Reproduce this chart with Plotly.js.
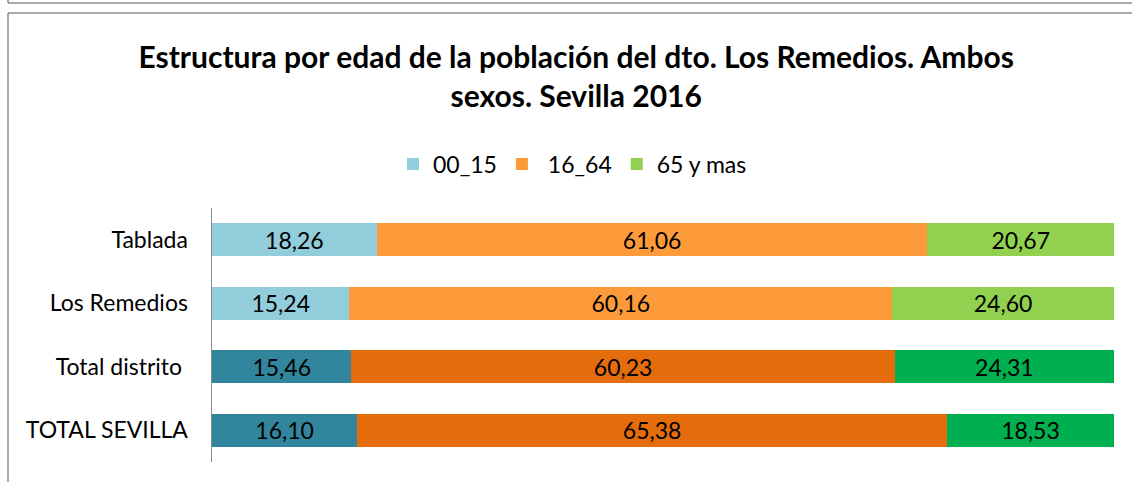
<!DOCTYPE html>
<html>
<head>
<meta charset="utf-8">
<script src="https://cdn.plot.ly/plotly-3.0.1.min.js"></script>
<style>html,body{margin:0;padding:0;background:#fff;}#chart{width:1132px;height:482px;}</style>
</head>
<body>
<div id="chart"></div>
<script>
const categories = ["Tablada", "Los Remedios", "Total distrito\u00a0", "TOTAL SEVILLA"];
const seriesNames = ["00_15", "\u00a016_64", "65 y mas"];
const v00_15 = [18.26, 15.24, 15.46, 16.10];
const v16_64 = [61.06, 60.16, 60.23, 65.38];
const v65 = [20.67, 24.60, 24.31, 18.53];
const colors00_15 = ["#92CDDC", "#92CDDC", "#31859C", "#31859C"];
const colors16_64 = ["#FD9A3A", "#FD9A3A", "#E46C0A", "#E46C0A"];
const colors65 = ["#92D050", "#92D050", "#00B050", "#00B050"];

const fmt = v => v.toFixed(2).replace('.', ',');
const FONT = "Lato, 'Open Sans', sans-serif";

function mk(name, vals, cols) {
  return {
    type: 'bar', orientation: 'h', name: name,
    y: categories, x: vals,
    text: vals.map(fmt), textposition: 'inside', insidetextanchor: 'middle',
    textangle: 0, constraintext: 'none',
    textfont: {family: FONT, size: 23, color: '#000'},
    marker: {color: cols, line: {width: 0}},
    width: 0.52, hoverinfo: 'skip'
  };
}
const traces = [mk(seriesNames[0], v00_15, colors00_15), mk(seriesNames[1], v16_64, colors16_64), mk(seriesNames[2], v65, colors65)];

const L = 212, R = 1114, T = 208, B = 462, W = 1132, H = 482;
const px = x => (x - L) / (R - L);
const py = y => (B - y) / (B - T);
const lineStyle = {color: '#8c8c8c', width: 1.5};
const shapes = [
  {type: 'line', xref: 'paper', yref: 'paper', x0: px(8), x1: px(W), y0: py(3), y1: py(3), line: lineStyle},
  {type: 'line', xref: 'paper', yref: 'paper', x0: px(8), x1: px(8), y0: py(0), y1: py(3), line: lineStyle},
  {type: 'line', xref: 'paper', yref: 'paper', x0: px(8), x1: px(W), y0: py(13), y1: py(13), line: lineStyle},
  {type: 'line', xref: 'paper', yref: 'paper', x0: px(8), x1: px(8), y0: py(13), y1: py(H), line: lineStyle}
];

const layout = {
  width: W, height: H,
  margin: {l: L, r: W - R, t: T, b: H - B, pad: 0},
  paper_bgcolor: '#fff', plot_bgcolor: '#fff',
  barmode: 'stack',
  font: {family: FONT, size: 23, color: '#000'},
  title: {
    text: '<b>Estructura por edad de la población del dto. Los Remedios. Ambos<br>sexos. Sevilla 2016</b>',
    font: {family: FONT, size: 30, color: '#000'},
    x: 0.509, xanchor: 'center', xref: 'container',
    y: 1 - 68 / H, yanchor: 'middle', yref: 'container'
  },
  showlegend: true,
  legend: {
    orientation: 'h', x: px(393), xanchor: 'left', y: py(164), yanchor: 'middle',
    font: {family: FONT, size: 23, color: '#000'},
    traceorder: 'normal', bgcolor: 'rgba(0,0,0,0)'
  },
  xaxis: {range: [0, 100], showgrid: false, zeroline: false, showticklabels: false, showline: false, fixedrange: true},
  yaxis: {
    type: 'category', autorange: 'reversed', showgrid: false, zeroline: false,
    showline: true, linecolor: '#8c8c8c', linewidth: 1.5,
    ticks: 'outside', ticklen: 18, tickcolor: 'rgba(0,0,0,0)',
    tickfont: {family: FONT, size: 23, color: '#000'}, fixedrange: true
  },
  shapes: shapes
};
Plotly.newPlot('chart', traces, layout, {displayModeBar: false, staticPlot: true});
</script>
</body>
</html>
